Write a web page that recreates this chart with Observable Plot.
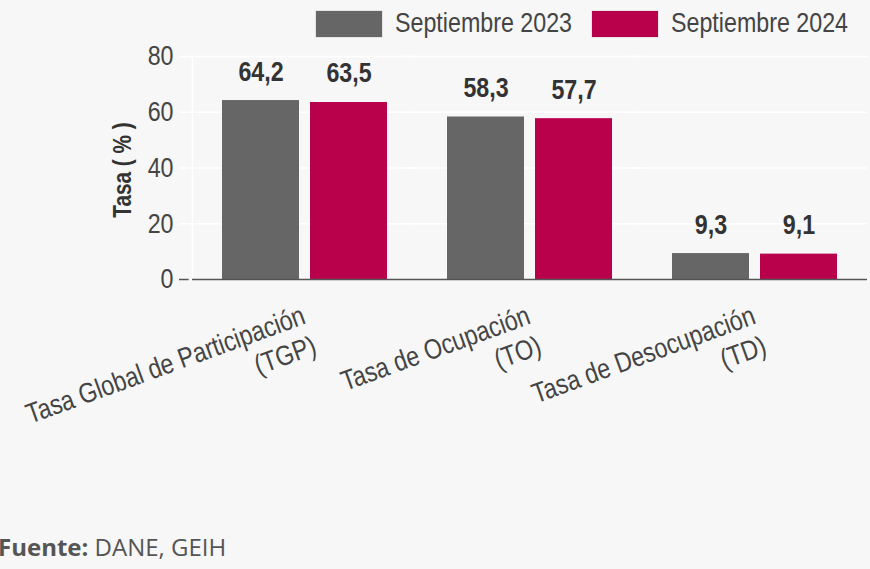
<!DOCTYPE html>
<html>
<head>
<meta charset="utf-8">
<script src="https://cdn.jsdelivr.net/npm/d3@7"></script>
<script src="https://cdn.jsdelivr.net/npm/@observablehq/plot@0.6"></script>
<style>
  html, body { margin: 0; padding: 0; background: #f7f7f7; }
  body { width: 870px; height: 569px; position: relative; overflow: hidden; font-family: "Liberation Sans", Arial, sans-serif; }
  .sw { position: absolute; top: 10px; width: 68px; height: 28px; box-sizing: border-box; border: 1px solid #e4e4e4; }
  .lab { position: absolute; top: 9px; font-size: 28px; line-height: 28px; color: #444; white-space: nowrap; transform: scaleX(0.83); transform-origin: 0 0; }
  #chart { position: absolute; left: 0; top: 44px; }
  #source { position: absolute; left: -2px; top: 535px; font-family: "Open Sans", sans-serif; font-size: 24px; line-height: 24px; color: #555; white-space: nowrap; }
</style>
</head>
<body>
<div id="legend"></div>
<div id="chart"></div>
<div id="source"><b>Fuente:</b> DANE, GEIH</div>
<script>
const categories = ["Tasa Global de Participación\n(TGP)", "Tasa de Ocupación\n(TO)", "Tasa de Desocupación\n(TD)"];
const series = ["Septiembre 2023", "Septiembre 2024"];
const values2023 = [64.2, 58.3, 9.3];
const values2024 = [63.5, 57.7, 9.1];
const colors = ["#666666", "#b8004b"];
const yTicks = [0, 20, 40, 60, 80];

const data = [];
categories.forEach((c, i) => {
  data.push({cat: c, series: series[0], value: values2023[i]});
  data.push({cat: c, series: series[1], value: values2024[i]});
});

// legend (HTML, above the SVG)
const legend = document.getElementById("legend");
const swatchLeft = [315, 591];
series.forEach((s, i) => {
  const sw = document.createElement("div");
  sw.className = "sw";
  sw.style.left = swatchLeft[i] + "px";
  sw.style.background = colors[i];
  const lb = document.createElement("span");
  lb.className = "lab";
  lb.style.left = (swatchLeft[i] + 80) + "px";
  lb.textContent = s;
  legend.appendChild(sw); legend.appendChild(lb);
});

const fmt = v => String(v).replace(".", ",");
const FONT = "'Liberation Sans', Arial, sans-serif";
const W = 870, ML = 191, MR = 3;
const facetW = (W - ML - MR) / categories.length;

const chart = Plot.plot({
  width: W,
  height: 456,
  marginTop: 12,
  marginBottom: 221,
  marginLeft: ML,
  marginRight: MR,
  style: {background: "#f7f7f7", fontFamily: FONT, color: "#444"},
  fx: {domain: categories, padding: 0, label: null},
  x: {domain: series, paddingInner: 0.13, paddingOuter: 0.33, axis: null},
  y: {domain: [0, 80], axis: null},
  color: {domain: series, range: colors},
  marks: [
    Plot.ruleY(yTicks.slice(1), {stroke: "white", strokeWidth: 1.5, insetLeft: -13}),
    Plot.frame({anchor: "left", stroke: "white", strokeWidth: 1.5, facetAnchor: "left"}),
    Plot.barY(data, {fx: "cat", x: "series", y: "value", fill: "series"}),
    Plot.ruleY([0], {stroke: "#555", strokeWidth: 1.5}),
    Plot.ruleY([0], {fx: () => categories[0], stroke: "#555", strokeWidth: 1.5, insetLeft: -13, insetRight: facetW + 3}),
    Plot.text(data, {fx: "cat", x: "series", y: "value", text: d => fmt(d.value), dy: -20, lineAnchor: "bottom", fontSize: 28, fontWeight: "bold", fill: "#333"}),
    Plot.axisY({ticks: yTicks, tickSize: 0, tickPadding: 19, fontSize: 28, label: null, fill: "#444"}),
    Plot.text(["Tasa ( % )"], {fx: () => categories[0], frameAnchor: "left", textAnchor: "middle", rotate: -90, dx: -70, dy: 2, fontSize: 25, fontWeight: "bold", fill: "#333", lineAnchor: "middle"}),
    Plot.axisFx({anchor: "bottom", tickRotate: -20, tickSize: 0, tickPadding: 49, lineHeight: 1.15, dx: 4, fontSize: 28, label: null, fill: "#444"})
  ]
});

// condense all SVG text horizontally (narrow typeface look)
const S = 0.83;
chart.querySelectorAll("text").forEach(t => {
  const tr = t.getAttribute("transform");
  if (tr) {
    t.setAttribute("transform", tr + ` scale(${S},1)`);
  } else {
    const x = +(t.getAttribute("x") || 0), y = +(t.getAttribute("y") || 0);
    t.removeAttribute("x"); t.removeAttribute("y");
    t.setAttribute("transform", `translate(${x},${y}) scale(${S},1)`);
  }
});
document.getElementById("chart").appendChild(chart);
</script>
</body>
</html>
